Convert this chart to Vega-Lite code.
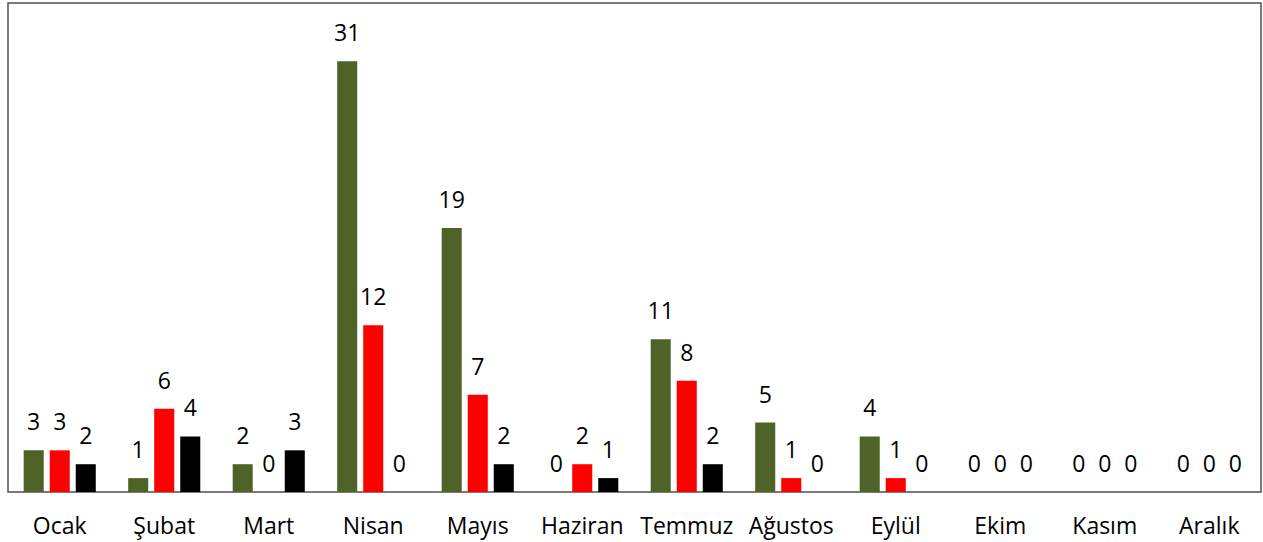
{
  "$schema": "https://vega.github.io/schema/vega-lite/v6.json",
  "width": 1253,
  "height": 489,
  "padding": {"left": 8, "top": 3, "right": 2, "bottom": 50},
  "autosize": {"type": "none"},
  "background": "white",
  "config": {
    "view": {"stroke": "#505050", "strokeWidth": 1.5},
    "font": "Open Sans"
  },
  "data": {
    "values": [
      {"ay": "Ocak", "seri": "A", "deger": 3},
      {"ay": "Ocak", "seri": "B", "deger": 3},
      {"ay": "Ocak", "seri": "C", "deger": 2},
      {"ay": "Şubat", "seri": "A", "deger": 1},
      {"ay": "Şubat", "seri": "B", "deger": 6},
      {"ay": "Şubat", "seri": "C", "deger": 4},
      {"ay": "Mart", "seri": "A", "deger": 2},
      {"ay": "Mart", "seri": "B", "deger": 0},
      {"ay": "Mart", "seri": "C", "deger": 3},
      {"ay": "Nisan", "seri": "A", "deger": 31},
      {"ay": "Nisan", "seri": "B", "deger": 12},
      {"ay": "Nisan", "seri": "C", "deger": 0},
      {"ay": "Mayıs", "seri": "A", "deger": 19},
      {"ay": "Mayıs", "seri": "B", "deger": 7},
      {"ay": "Mayıs", "seri": "C", "deger": 2},
      {"ay": "Haziran", "seri": "A", "deger": 0},
      {"ay": "Haziran", "seri": "B", "deger": 2},
      {"ay": "Haziran", "seri": "C", "deger": 1},
      {"ay": "Temmuz", "seri": "A", "deger": 11},
      {"ay": "Temmuz", "seri": "B", "deger": 8},
      {"ay": "Temmuz", "seri": "C", "deger": 2},
      {"ay": "Ağustos", "seri": "A", "deger": 5},
      {"ay": "Ağustos", "seri": "B", "deger": 1},
      {"ay": "Ağustos", "seri": "C", "deger": 0},
      {"ay": "Eylül", "seri": "A", "deger": 4},
      {"ay": "Eylül", "seri": "B", "deger": 1},
      {"ay": "Eylül", "seri": "C", "deger": 0},
      {"ay": "Ekim", "seri": "A", "deger": 0},
      {"ay": "Ekim", "seri": "B", "deger": 0},
      {"ay": "Ekim", "seri": "C", "deger": 0},
      {"ay": "Kasım", "seri": "A", "deger": 0},
      {"ay": "Kasım", "seri": "B", "deger": 0},
      {"ay": "Kasım", "seri": "C", "deger": 0},
      {"ay": "Aralık", "seri": "A", "deger": 0},
      {"ay": "Aralık", "seri": "B", "deger": 0},
      {"ay": "Aralık", "seri": "C", "deger": 0}
    ]
  },
  "encoding": {
    "x": {
      "field": "ay",
      "type": "nominal",
      "sort": null,
      "scale": {"paddingInner": 0.31, "paddingOuter": 0.15},
      "axis": {
        "title": null,
        "labelAngle": 0,
        "ticks": false,
        "domain": false,
        "labelFontSize": 23,
        "labelColor": "#000000",
        "labelPadding": 23,
        "labelFont": "Open Sans",
        "labelFontWeight": "normal",
        "labelLimit": 200
      }
    },
    "xOffset": {
      "field": "seri",
      "type": "nominal",
      "scale": {"paddingInner": 0.23, "paddingOuter": 0}
    },
    "y": {
      "field": "deger",
      "type": "quantitative",
      "scale": {"domain": [0, 35.2], "nice": false},
      "axis": null
    }
  },
  "layer": [
    {
      "mark": {"type": "bar"},
      "encoding": {
        "color": {
          "field": "seri",
          "type": "nominal",
          "scale": {"domain": ["A", "B", "C"], "range": ["#4F6228", "#FF0000", "#000000"]},
          "legend": null
        }
      }
    },
    {
      "mark": {"type": "text", "baseline": "middle", "dy": -27, "fontSize": 23, "color": "#000000", "font": "Open Sans"},
      "encoding": {
        "text": {"field": "deger", "type": "quantitative"}
      }
    }
  ]
}
